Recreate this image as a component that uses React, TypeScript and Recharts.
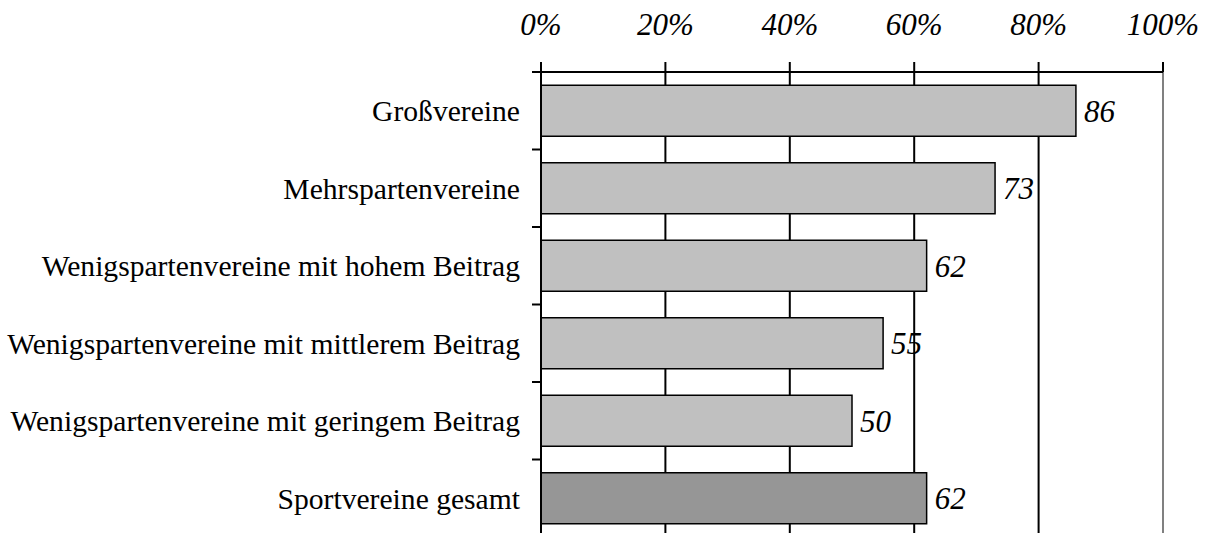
import React from 'react';
import { BarChart, Bar, XAxis, YAxis, CartesianGrid, LabelList, Cell, ReferenceLine } from 'recharts';

const categories = [
  'Großvereine',
  'Mehrspartenvereine',
  'Wenigspartenvereine mit hohem Beitrag',
  'Wenigspartenvereine mit mittlerem Beitrag',
  'Wenigspartenvereine mit geringem Beitrag',
  'Sportvereine gesamt',
];
const values = [86, 73, 62, 55, 50, 62];
const barColors = ['#C0C0C0', '#C0C0C0', '#C0C0C0', '#C0C0C0', '#C0C0C0', '#969696'];
const xTicks = [0, 20, 40, 60, 80, 100];

const data = categories.map((name, i) => ({ name, value: values[i] }));

const FONT = "'Liberation Serif', 'Times New Roman', serif";
const TICK_LEN = 9;
const LABEL_GAP = 21;

const CategoryTick = (props: any) => {
  const { x, y, payload, index, visibleTicksCount } = props;
  const half = typeof payload?.offset === 'number' ? payload.offset : 0;
  const isLast = index === (visibleTicksCount ?? categories.length) - 1;
  return (
    <g>
      <line x1={x - TICK_LEN} x2={x} y1={y - half} y2={y - half} stroke="#000" strokeWidth={2} />
      {isLast && (
        <line x1={x - TICK_LEN} x2={x} y1={y + half} y2={y + half} stroke="#000" strokeWidth={2} />
      )}
      <text
        x={x - LABEL_GAP}
        y={y}
        dy="0.355em"
        textAnchor="end"
        fill="#000"
        fontSize={29.6}
        fontFamily={FONT}
      >
        {payload.value}
      </text>
    </g>
  );
};

export default function App() {
  return (
    <div style={{ position: 'absolute', left: 0, top: 0, width: 1207, height: 540, background: '#fff' }}>
      <BarChart
        width={1207}
        height={540}
        data={data}
        layout="vertical"
        margin={{ top: 0, right: 44, bottom: 3, left: 0 }}
        barCategoryGap="17%"
      >
        <CartesianGrid horizontal={false} vertical={true} stroke="#000" strokeWidth={2} />
        <XAxis
          type="number"
          orientation="top"
          domain={[0, 100]}
          ticks={xTicks}
          interval={0}
          height={72}
          tickFormatter={(v: number) => `${v}%`}
          tickSize={10}
          tickMargin={27}
          axisLine={{ stroke: '#000', strokeWidth: 2 }}
          tickLine={{ stroke: '#000', strokeWidth: 2 }}
          tick={{ fontSize: 31, fontStyle: 'italic', fill: '#000', fontFamily: FONT }}
        />
        <YAxis
          type="category"
          dataKey="name"
          width={541}
          interval={0}
          axisLine={{ stroke: '#000', strokeWidth: 2 }}
          tickLine={false}
          tickSize={0}
          tickMargin={0}
          tick={<CategoryTick />}
        />
        <ReferenceLine x={100} stroke="#808080" strokeWidth={2} />
        <Bar dataKey="value" stroke="#000" strokeWidth={1.5} isAnimationActive={false}>
          {data.map((d, i) => (
            <Cell key={d.name} fill={barColors[i]} />
          ))}
          <LabelList
            dataKey="value"
            position="right"
            offset={8}
            style={{ fontSize: 31, fontStyle: 'italic', fill: '#000', fontFamily: FONT }}
          />
        </Bar>
      </BarChart>
    </div>
  );
}
